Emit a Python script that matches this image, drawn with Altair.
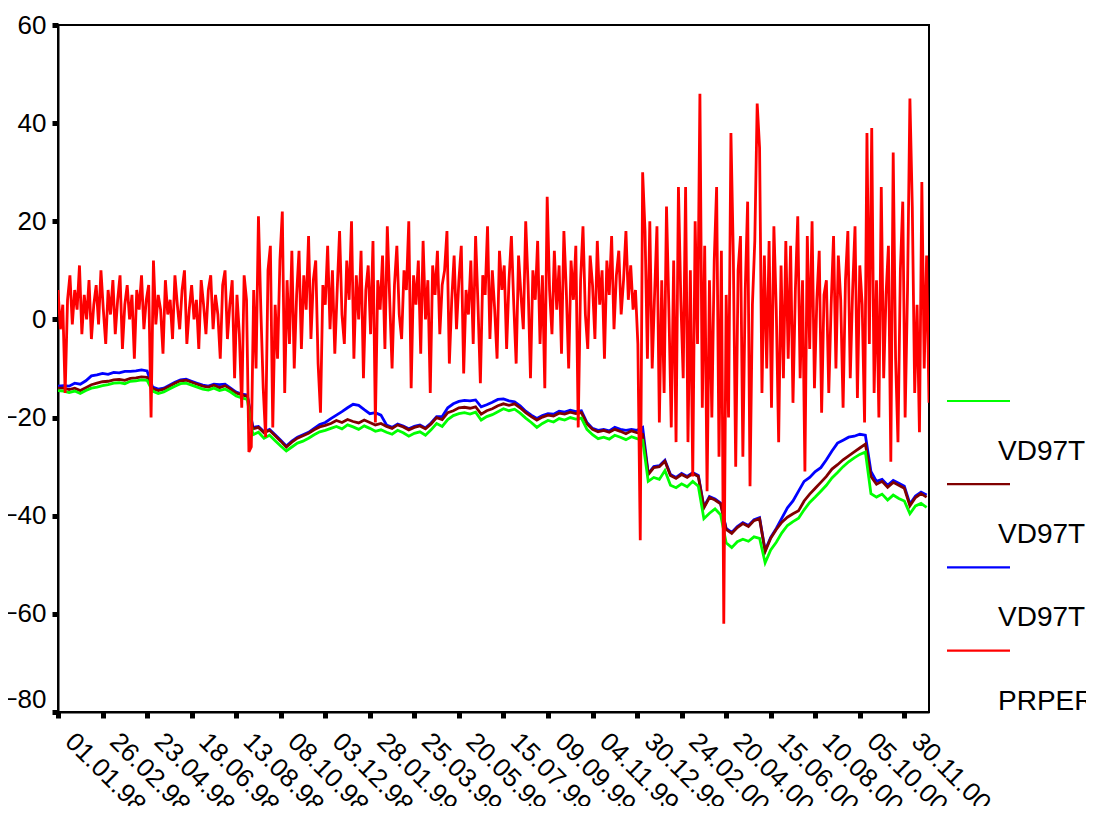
import altair as alt
import pandas as pd

# ---------------- data ----------------
SMOOTH_STEP = 7   # days between samples of the three smooth series
RED_STEP = 3      # days between samples of the red series

green = [
    -14.5, -14.6, -14.9, -14.6, -15.1, -14.5, -14.0, -13.8, -13.5, -13.3,
    -13.0, -12.9, -13.1, -12.6, -12.5, -12.3, -12.4, -14.6, -15.1, -14.8,
    -14.2, -13.6, -13.1, -13.0, -13.4, -13.8, -14.2, -14.4, -14.0, -14.5,
    -14.2, -14.8, -15.6, -16.0, -16.3, -23.5, -23.0, -24.2, -23.6, -24.7,
    -25.8, -26.8, -26.0, -25.2, -24.8, -24.2, -23.5, -22.9, -22.6, -22.2,
    -21.8, -22.3, -21.5, -21.9, -22.4, -21.7, -22.2, -22.8, -22.5, -23.0,
    -23.4, -22.6, -23.1, -23.8, -23.2, -22.9, -23.6, -22.5, -21.2, -21.8,
    -20.4, -19.6, -19.2, -19.0, -19.3, -18.9, -20.5, -19.8, -19.4, -18.8,
    -18.2, -18.6, -18.3, -19.1, -20.1, -21.0, -22.0, -21.2, -20.6, -20.9,
    -20.2, -20.5, -20.0, -20.3, -20.1, -22.4, -23.5, -24.3, -24.0, -24.4,
    -23.6, -24.0, -24.5, -23.9, -24.3, -24.6, -33.0, -32.2, -32.6, -30.8,
    -33.8, -34.3, -33.5, -34.1, -33.0, -34.0, -40.6, -39.5, -38.6, -39.8,
    -45.5, -46.5, -45.3, -44.8, -45.2, -44.3, -44.6, -49.6, -47.0, -45.4,
    -43.5, -42.0, -41.2, -40.5, -38.8, -37.3, -36.2, -35.0, -33.8, -32.3,
    -31.2, -30.0, -29.0, -28.2, -27.5, -27.0, -35.5, -36.2, -35.6, -36.8,
    -35.8, -36.5, -37.0, -39.6, -38.0, -37.5, -38.3,
]

darkred = [
    -14.0, -14.0, -14.3, -14.0, -14.5, -13.9, -13.3, -13.0, -12.7, -12.6,
    -12.3, -12.2, -12.4, -12.0, -11.9, -11.7, -11.8, -14.1, -14.5, -14.2,
    -13.6, -13.0, -12.5, -12.4, -12.8, -13.2, -13.6, -13.8, -13.4, -13.9,
    -13.5, -14.2, -15.0, -15.4, -15.7, -22.3, -22.0, -23.1, -22.6, -23.7,
    -24.8, -26.0, -25.0, -24.2, -23.7, -23.2, -22.5, -21.9, -21.6, -21.2,
    -20.6, -21.0, -20.4, -20.8, -21.1, -20.5, -21.0, -21.5, -21.2, -21.8,
    -22.2, -21.5, -21.9, -22.5, -22.0, -21.7, -22.3, -21.3, -20.0, -20.4,
    -19.0, -18.6, -18.0, -17.9, -18.1, -17.8, -19.3, -18.6, -18.2, -17.6,
    -17.2, -17.5, -17.2, -18.0, -19.0, -19.8, -20.5, -19.9, -19.5, -19.7,
    -19.1, -19.3, -18.9, -19.2, -19.0, -21.3, -22.4, -22.9, -22.6, -23.0,
    -22.4, -22.8, -23.3, -22.7, -23.1, -23.4, -31.6, -30.2, -30.0, -28.9,
    -31.8, -32.4, -31.6, -32.2, -31.4, -32.0, -38.4, -36.3, -36.8, -37.6,
    -42.8, -43.6, -42.4, -41.6, -42.2, -41.0, -40.6, -47.3, -44.6, -42.8,
    -41.3, -40.3, -39.6, -39.0, -37.0, -35.6, -34.4, -33.2, -32.0, -30.5,
    -29.6, -28.6, -27.8, -27.0, -26.2, -25.4, -32.0, -33.6, -33.0, -34.2,
    -33.2, -33.8, -34.4, -38.0, -36.3, -35.5, -36.2,
]

blue = [
    -13.6, -13.5, -13.6, -13.0, -13.2, -12.5, -11.5, -11.3, -11.0, -11.2,
    -10.8, -10.9, -10.6, -10.6, -10.5, -10.3, -10.5, -13.8, -14.2, -14.0,
    -13.4, -12.8, -12.3, -12.2, -12.6, -13.0, -13.4, -13.6, -13.2, -13.3,
    -13.2, -14.0, -14.8, -15.2, -15.4, -22.0, -21.8, -22.9, -22.4, -23.5,
    -24.6, -25.8, -24.8, -24.0, -23.5, -23.0, -22.2, -21.4, -21.0, -20.2,
    -19.5, -18.8, -18.0, -17.3, -17.5, -18.4, -19.2, -19.0, -19.5, -21.5,
    -22.0, -21.3, -21.7, -22.3, -21.8, -21.5, -22.1, -21.1, -19.8, -19.8,
    -18.0, -17.2, -16.7, -16.5, -16.6, -16.4, -17.8, -17.4, -16.9, -16.3,
    -16.2, -16.6, -16.8, -17.6, -18.7, -19.5, -20.2, -19.6, -19.2, -19.3,
    -18.7, -18.9, -18.5, -18.8, -18.6, -21.0, -22.2, -22.6, -22.4, -22.7,
    -22.0, -22.4, -22.6, -22.4, -22.6, -22.0, -31.4, -30.0, -29.8, -28.7,
    -31.6, -32.2, -31.4, -32.0, -31.2, -31.8, -38.2, -36.1, -36.6, -37.4,
    -42.6, -43.4, -42.2, -41.4, -42.0, -40.8, -40.4, -47.1, -44.4, -42.6,
    -40.5, -38.4, -37.0, -35.0, -33.0, -32.2, -31.0, -30.2, -28.6, -26.8,
    -25.2, -24.6, -24.0, -23.8, -23.4, -23.6, -31.0, -33.0, -32.6, -33.8,
    -32.8, -33.4, -34.0, -37.6, -36.0, -35.2, -35.8,
]

red = [
    6, -2, 3, -15, 4, 9, -1, 6, 2, 11, -3, 5, 0, 8, -4, 3, 7, -1, 10, 2,
    -5, 6, 1, 8, -3, 4, 9, -6, 3, 7, 0, 5, -8, 6, 2, 9, -2, 4, 7, -20,
    12, -1, 5, 2, -7, 8, 1, 4, -4, 9, 3, -2, 6, 10, -5, 2, 7, 0, 4, -6,
    8, 3, -3, 6, 9, -2, 5, 1, -8, 7, 10, -4, 3, 8, -12, 5, -3,
    -18, 9, 4, -27, -26, 6, -10, 21, 2, -14, -24, 10, 15, -22, 3, -8, 12, 22, -15, 8, -5, 14, -10,
    5, 14, -6, 9, 2, 17, -4, 8, 12, -9, -19, 7, 3, 15, -2, 10, -7, 6, 18, 1,
    -5, 12, 4, 20, -8, 9, 0, 14, -12, 6, 11, -3, 16, -21, 8, 2, 13, -6, 19, 4,
    -10, 7, 15, 1, -4, 10, 6, 20, -14, 9, 3, 12, -7, 16, 0, 8, -15, 11, 5, 14,
    -3, 7, 10, 18, -9, 4, 13, -2, 8, 15, -11, 6, 1, 12, -5, 17, 3, -13, 9, 5,
    19, -4, 10, 2, -8, 14, 6,
    11, -6, 8, 17, 3, -9, 13, 5, -2, 20, 7, -12, 10, 4, 16, -5, 9, -14, 25, 6,
    -3, 14, 2, 11, -7, 18, 6, -10, 12, 4, 15, -22, 8, 19, 1, -6, 13, 7, -4, 16,
    3, 10, -8, 12, 5, 17, -2, 9, 14, 1, 8, 18, 4, 11, 2, 6, -5,
    -45, 30,
    18, -8, 20, -10, 5, 19, -21, 8, -15, 23, 2, -22, 12, -25, 27, 4, -12, 27, -25, 10,
    -32, 20, -5, 46, -18, 15, -35, 8, -20, 12, 27, -28, 14, -62, 5, -20, 38, 13, -30, 10,
    17, -28, 6, 24, -34, 3, 16, 44, 35, -15, 13, -10, 16, -18, 19, 2, -25, 11, -12, 16,
    -8, 15, -17, 6, 21, -12, 8, -31, 17, -6, 20, -14, 4, 14, -19, 5, 8, -15, 3, 17,
    -10, 13, 4, -18, 8, 18, -12, 6, 19, -16, 11, 3, -21, 38, -5, 39, -15, 8, -20, 27,
    -12, 5, 15, -29, 34, -8, -25, 10, 24, -20, 6, 45, 23, -15, 3, -23, 28, -10, 13, -17,
]

series_names = ["VD97T", "VD97TC", "VD97T3", "PRPER"]
series_colors = ["#00ff00", "#800000", "#0000ff", "#ff0000"]
x_tick_days = list(range(0, 1065, 56))   # 01.01.98, 26.02.98, ... 30.11.00
y_ticks = [-80, -60, -40, -20, 0, 20, 40, 60]

# ---------------- chart ----------------
FONT = "Liberation Sans"
PLOT_W, PLOT_H = 871, 687


def frame(values, step):
    return pd.DataFrame({"day": [i * step for i in range(len(values))], "value": values})


x_enc = alt.X(
    "day:Q",
    scale=alt.Scale(domain=[0, 1095], nice=False, zero=False),
    axis=alt.Axis(
        values=x_tick_days,
        labelExpr="timeFormat(datetime(1998, 0, 1 + datum.value), '%d.%m.%y')",
        labelAngle=45, labelAlign="left", labelBaseline="middle",
        labelFont=FONT, labelFontSize=26, labelColor="black",
        labelPadding=19, labelOffset=11, labelOverlap=False,
        labelFlush=False, labelBound=False,
        tickColor="black", tickSize=6, tickWidth=5,
        domainColor="black", domainWidth=2, grid=False, title=None,
    ),
)
y_enc = alt.Y(
    "value:Q",
    scale=alt.Scale(domain=[-80, 60], nice=False, zero=False),
    axis=alt.Axis(
        values=y_ticks, labelFont=FONT, labelFontSize=26, labelColor="black",
        labelPadding=6, tickColor="black", tickSize=6, tickWidth=5,
        domainColor="black", domainWidth=2, grid=False, title=None,
        labelOverlap=False, labelFlush=False,
        labelBaseline={"condition": {"test": "datum.value == -80", "value": "bottom"},
                       "value": "middle"},
    ),
)

def line_layer(values, step, color):
    return alt.Chart(frame(values, step)).mark_line(
        color=color, strokeWidth=2.8, clip=True
    ).encode(x=x_enc, y=y_enc)

layers = [
    line_layer(blue, SMOOTH_STEP, series_colors[2]),
    line_layer(darkred, SMOOTH_STEP, series_colors[1]),
    line_layer(green, SMOOTH_STEP, series_colors[0]),
    line_layer(red, RED_STEP, series_colors[3]),
]

# manual legend to the right of the plot (label sits below its line sample)
LEG_X0, LEG_X1, LEG_TEXT_X = 889, 952, 940
LEG_TOP, LEG_GAP, LEG_TEXT_DY = 376, 83.2, 59
for k, (name, color) in enumerate(zip(series_names, series_colors)):
    y_line = LEG_TOP + LEG_GAP * k
    df = pd.DataFrame({"name": [name]})
    layers.append(
        alt.Chart(df).mark_rule(color=color, strokeWidth=2.2).encode(
            x=alt.value(LEG_X0), x2=alt.value(LEG_X1), y=alt.value(y_line)
        )
    )
    layers.append(
        alt.Chart(df).mark_text(
            align="left", baseline="alphabetic", font=FONT, fontSize=28, color="black"
        ).encode(x=alt.value(LEG_TEXT_X), y=alt.value(y_line + LEG_TEXT_DY), text="name:N")
    )

chart = alt.layer(*layers).properties(
    width=PLOT_W,
    height=PLOT_H,
    autosize=alt.AutoSizeParams(type="none"),
    padding={"left": 50, "top": 17, "right": 157, "bottom": 94},
).configure(font=FONT).configure_view(stroke="black", strokeWidth=2)

chart.save("out.html", embed_options={"renderer": "svg", "actions": False})
